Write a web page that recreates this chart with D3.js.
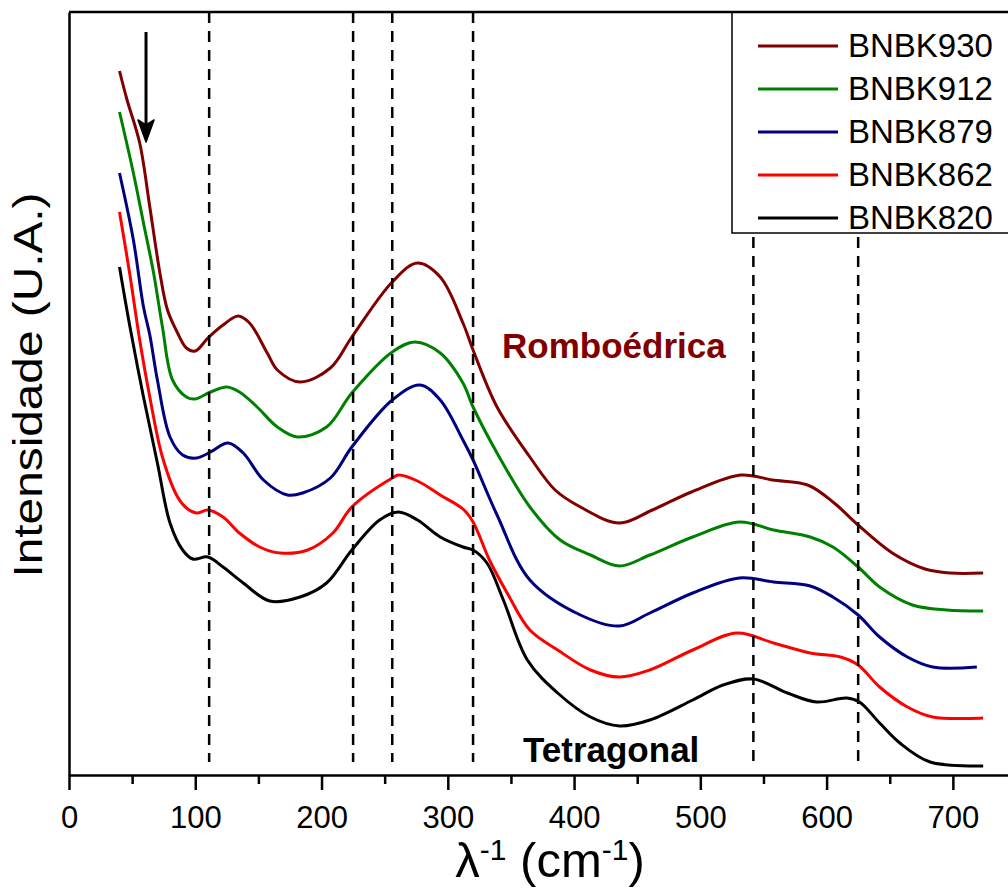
<!DOCTYPE html>
<html>
<head>
<meta charset="utf-8">
<script src="https://cdn.jsdelivr.net/npm/d3@7"></script>
<style>
  html, body { margin: 0; padding: 0; background: #fff; overflow: hidden; }
  svg { font-family: "Liberation Sans", Arial, sans-serif; display: block; }
</style>
</head>
<body>
<div id="chart"></div>
<script>
const width = 1008;
const height = 892;
const margin = { top: 12, left: 69, bottom: 117 };
const innerWidth = 947;
const innerHeight = height - margin.top - margin.bottom;

// spectra: [wavenumber (cm-1), intensity (a.u., offset stacked)]
const bnbk930 = [[40,704],[46,675],[56,632],[64,568],[72,502],[78,465],[86,442],[93,427],[100,424],[110,437],[122,450],[134,459],[143,452],[157,422],[165,405],[183,393],[207,407],[224,438],[256,493],[276,512],[294,498],[312,452],[320,425],[339,368],[365,318],[385,285],[405,268],[436,252],[462,265],[493,283],[532,300],[557,295],[585,290],[606,272],[624,251],[652,222],[678,206],[698,202],[724,202]];
const bnbk912 = [[40,663],[51,602],[59,552],[67,502],[74,448],[82,395],[93,378],[100,376],[112,383],[125,388],[135,383],[149,368],[165,348],[181,338],[204,348],[224,382],[256,423],[274,433],[294,422],[312,392],[320,368],[339,322],[365,268],[389,235],[413,220],[436,209],[460,220],[494,238],[531,253],[558,245],[587,238],[605,228],[625,208],[642,188],[668,170],[695,165],[724,164]];
const bnbk879 = [[40,602],[51,535],[59,468],[64,440],[70,395],[80,338],[90,320],[101,317],[112,323],[126,332],[138,322],[154,295],[173,280],[185,282],[207,297],[224,328],[256,375],[278,390],[294,375],[312,335],[320,315],[339,260],[365,195],[405,160],[436,149],[460,162],[494,182],[531,197],[558,193],[587,189],[605,178],[625,160],[642,138],[664,118],[684,108],[719,108]];
const bnbk862 = [[40,563],[48,502],[56,435],[64,378],[74,318],[86,278],[93,267],[101,262],[110,265],[122,258],[135,242],[151,228],[167,222],[189,225],[209,242],[224,268],[256,297],[261,300],[276,294],[294,280],[312,266],[320,253],[333,215],[347,182],[365,145],[387,125],[413,105],[436,98],[460,105],[494,125],[529,142],[558,132],[587,122],[611,118],[625,110],[642,88],[664,68],[684,58],[724,57]];
const bnbk820 = [[40,508],[48,450],[59,378],[70,312],[80,252],[90,225],[98,216],[110,218],[122,208],[138,192],[159,174],[183,178],[204,192],[224,225],[246,255],[261,263],[276,255],[294,238],[312,228],[320,225],[331,212],[344,175],[363,115],[387,82],[413,58],[436,49],[460,55],[494,75],[518,90],[542,96],[569,82],[592,73],[616,77],[626,73],[642,52],[658,32],[682,13],[724,9]];

const seriesNames = ["BNBK930", "BNBK912", "BNBK879", "BNBK862", "BNBK820"];
const seriesData = [bnbk930, bnbk912, bnbk879, bnbk862, bnbk820];
const seriesColors = ["#800000", "#008000", "#000080", "#ff0000", "#000000"];

const majorTicks = [0, 100, 200, 300, 400, 500, 600, 700];
const minorTicks = [50, 150, 250, 350, 450, 550, 650];
const bandLines = [111, 225, 256, 320, 542, 625];
const arrowAt = 61;

const svg = d3.select('#chart')
    .append('svg')
    .attr('width', width)
    .attr('height', height);

const g = svg.append('g')
    .attr('transform', `translate(${margin.left},${margin.top})`);

const xScale = d3.scaleLinear()
    .domain([0, 750])
    .range([0, innerWidth]);

const yScale = d3.scaleLinear()
    .domain([0, 763])
    .range([innerHeight, 0]);

// spectra
const line = d3.line()
    .x(d => xScale(d[0]))
    .y(d => yScale(d[1]))
    .curve(d3.curveCatmullRom.alpha(0.5));

g.append('g').selectAll('path')
    .data(seriesData)
    .enter()
    .append('path')
    .attr('d', line)
    .attr('fill', 'none')
    .attr('stroke', (d, i) => seriesColors[i])
    .attr('stroke-width', 3)
    .attr('stroke-linejoin', 'round');

// legend box (right side runs past the picture edge, as in the original)
const legendX = 663;
const legendH = 221;
const legendW = innerWidth - legendX;
g.append('rect')
    .attr('x', legendX)
    .attr('y', 0)
    .attr('width', legendW)
    .attr('height', legendH)
    .attr('fill', 'none')
    .attr('stroke', '#000')
    .attr('stroke-width', 1.5);

const legend = g.append('g').selectAll('g')
    .data(seriesNames)
    .enter()
    .append('g')
    .attr('transform', (d, i) => `translate(${legendX + 26},${34 + i * 43})`);

legend.append('line')
    .attr('x1', 0).attr('x2', 80)
    .attr('stroke', (d, i) => seriesColors[i])
    .attr('stroke-width', 3);

legend.append('text')
    .attr('x', 90)
    .attr('y', 11)
    .style('font-size', '33px')
    .text(d => d);

// dashed band markers
g.append('g').selectAll('line')
    .data(bandLines)
    .enter()
    .append('line')
    .attr('x1', d => xScale(d))
    .attr('x2', d => xScale(d))
    .attr('y1', d => xScale(d) > legendX ? legendH + 4 : 0)
    .attr('y2', innerHeight - 13)
    .attr('stroke', '#000')
    .attr('stroke-width', 2.5)
    .attr('stroke-dasharray', '11,8');

// axes
const xAxis = d3.axisBottom(xScale)
    .tickValues(majorTicks)
    .tickSize(15)
    .tickSizeOuter(0)
    .tickPadding(16);

const xg = g.append('g')
    .attr('transform', `translate(0,${innerHeight})`)
    .call(xAxis);
xg.selectAll('text').style('font-size', '31px').attr('fill', '#000');
xg.selectAll('line, path').attr('stroke-width', 2.5);

const xMinor = g.append('g')
    .attr('transform', `translate(0,${innerHeight})`)
    .call(d3.axisBottom(xScale).tickValues(minorTicks).tickSize(9).tickFormat(''));
xMinor.select('.domain').remove();
xMinor.selectAll('text').remove();
xMinor.selectAll('line').attr('stroke-width', 2.5);

const yg = g.append('g')
    .call(d3.axisLeft(yScale).tickValues([]).tickSizeOuter(0));
yg.selectAll('path').attr('stroke-width', 2.5);

g.append('line')
    .attr('x1', 0).attr('x2', innerWidth)
    .attr('y1', 0).attr('y2', 0)
    .attr('stroke', '#000')
    .attr('stroke-width', 2.5);

// arrow
const ax = xScale(arrowAt);
g.append('line')
    .attr('x1', ax).attr('x2', ax)
    .attr('y1', 20).attr('y2', 118)
    .attr('stroke', '#000')
    .attr('stroke-width', 3);
g.append('path')
    .attr('d', `M${ax},130 L${ax - 8},108 L${ax},113 L${ax + 8},108 Z`)
    .attr('fill', '#000')
    .attr('stroke', '#000')
    .attr('stroke-width', 1.5)
    .attr('stroke-linejoin', 'round');

// phase labels
g.append('text')
    .attr('x', 433)
    .attr('y', 346)
    .attr('fill', '#800000')
    .style('font-size', '35px')
    .style('font-weight', 'bold')
    .text('Romboédrica');

g.append('text')
    .attr('x', 454)
    .attr('y', 750)
    .style('font-size', '35px')
    .style('font-weight', 'bold')
    .text('Tetragonal');

// axis titles
const xTitle = svg.append('text')
    .attr('x', 550)
    .attr('y', 877)
    .attr('text-anchor', 'middle')
    .style('font-size', '49px');
xTitle.append('tspan').text('λ');
xTitle.append('tspan').attr('dy', -17).style('font-size', '30px').text('-1');
xTitle.append('tspan').attr('dy', 17).text(' (cm');
xTitle.append('tspan').attr('dy', -17).style('font-size', '30px').text('-1');
xTitle.append('tspan').attr('dy', 17).text(')');

svg.append('text')
    .attr('transform', 'translate(42,385) rotate(-90)')
    .attr('text-anchor', 'middle')
    .attr('textLength', 385)
    .attr('lengthAdjust', 'spacingAndGlyphs')
    .style('font-size', '40px')
    .text('Intensidade (U.A.)');
</script>
</body>
</html>
